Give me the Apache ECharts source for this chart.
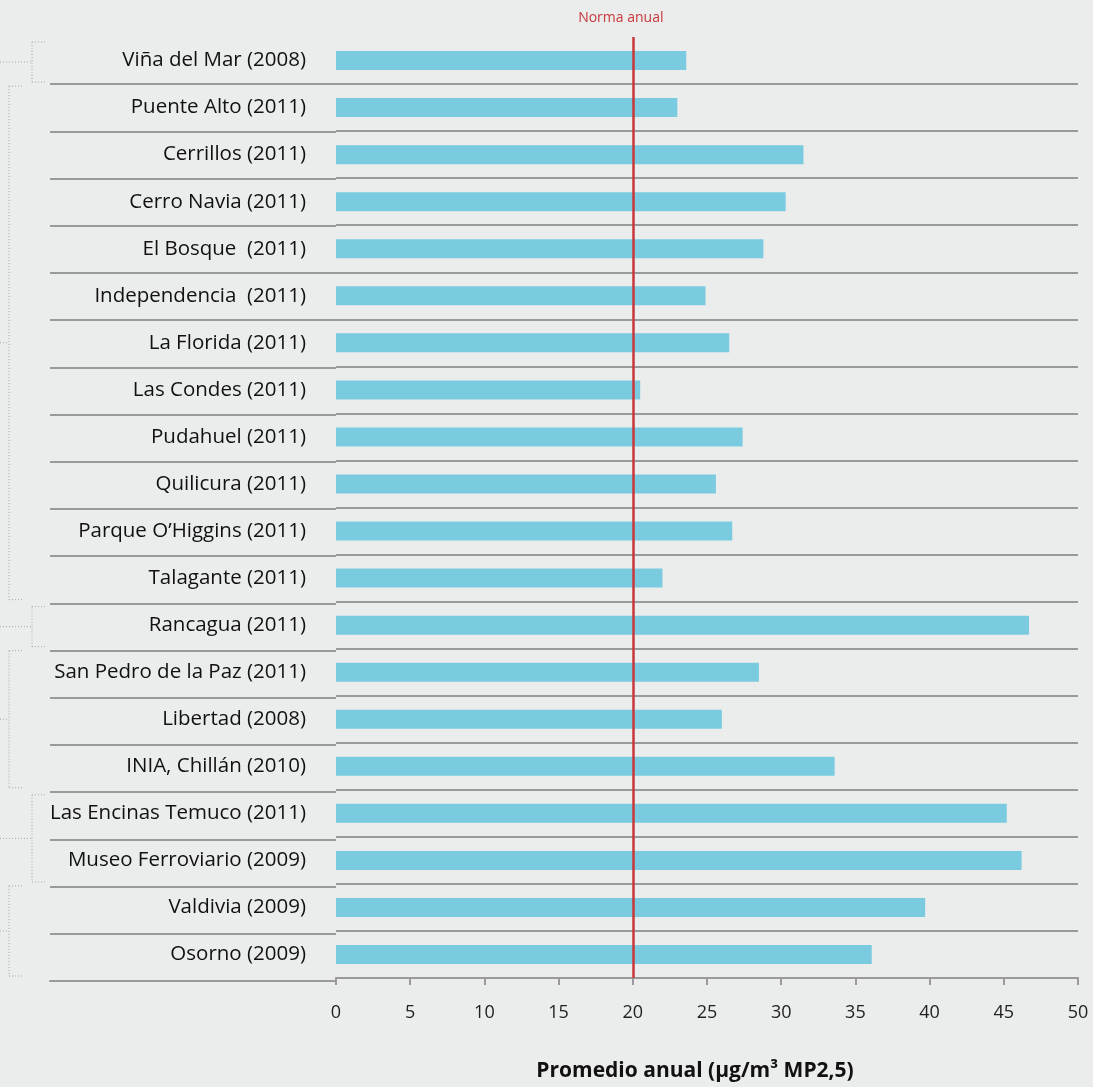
<!DOCTYPE html>
<html>
<head>
<meta charset="utf-8">
<script src="https://cdn.jsdelivr.net/npm/echarts@6/dist/echarts.min.js"></script>
<style>
html,body{margin:0;padding:0;background:#ebecec;}
#chart{width:1093px;height:1087px;}
</style>
</head>
<body>
<div id="chart"></div>
<script>
const categories = [
  "Viña del Mar (2008)", "Puente Alto (2011)", "Cerrillos (2011)", "Cerro Navia (2011)",
  "El Bosque  (2011)", "Independencia  (2011)", "La Florida (2011)", "Las Condes (2011)",
  "Pudahuel (2011)", "Quilicura (2011)", "Parque O’Higgins (2011)", "Talagante (2011)",
  "Rancagua (2011)", "San Pedro de la Paz (2011)", "Libertad (2008)", "INIA, Chillán (2010)",
  "Las Encinas Temuco (2011)", "Museo Ferroviario (2009)", "Valdivia (2009)", "Osorno (2009)"
];
const values = [23.6, 23.0, 31.5, 30.3, 28.8, 24.9, 26.5, 20.5, 27.4, 25.6, 26.7, 22.0,
  46.7, 28.5, 26.0, 33.6, 45.2, 46.2, 39.7, 36.1];
const normValue = 20;
const normLabel = "Norma anual";
const xTicks = { min: 0, max: 50, interval: 5 };
const axisTitle = "Promedio anual (µg/m³ MP2,5)";
// region groups (first index, last index, bracket level: 0 = inner, 1 = outer)
const groupStart = [0, 1, 12, 13, 16, 18];
const groupEnd   = [0, 11, 12, 15, 17, 19];
const groupLevel = [0, 1, 0, 1, 0, 1];

const chart = echarts.init(document.getElementById('chart'));
const FONT = '"Open Sans", "Noto Sans", sans-serif';
const sepColor = '#9a9a9a';

chart.setOption({
  backgroundColor: '#ebecec',
  animation: false,
  grid: [
    { left: 50, right: 757, top: 37, bottom: 106 },
    { left: 336, right: 15, top: 37, bottom: 106 }
  ],
  xAxis: [
    { gridIndex: 0, type: 'value', min: 0, max: 1,
      axisLine: { show: true, lineStyle: { color: sepColor, width: 2 } },
      axisTick: { show: false }, axisLabel: { show: false }, splitLine: { show: false } },
    { gridIndex: 1, type: 'value', min: xTicks.min, max: xTicks.max, interval: xTicks.interval,
      axisLine: { show: true, lineStyle: { color: sepColor, width: 2 } },
      axisTick: { show: true, length: 7, lineStyle: { color: sepColor, width: 2 } },
      axisLabel: { color: '#222', fontSize: 18, fontFamily: FONT, margin: 26 },
      splitLine: { show: false },
      name: axisTitle, nameLocation: 'middle', nameGap: 83,
      nameTextStyle: { color: '#111', fontSize: 21, fontWeight: 'bold', fontFamily: FONT, padding: [0, 24, 0, 0] } }
  ],
  yAxis: [
    { gridIndex: 0, type: 'category', inverse: true, data: categories,
      axisLine: { show: false }, axisTick: { show: false }, axisLabel: { show: false },
      splitLine: { show: true, showMinLine: false, lineStyle: { color: sepColor, width: 2 } } },
    { gridIndex: 1, type: 'category', inverse: true, data: categories,
      axisLine: { show: false }, axisTick: { show: false },
      axisLabel: { color: '#111', fontSize: 20.5, fontFamily: FONT, margin: 30 },
      splitLine: { show: true, showMinLine: false, lineStyle: { color: sepColor, width: 2 } } }
  ],
  series: [{
    type: 'bar', xAxisIndex: 1, yAxisIndex: 1, data: values, barWidth: 19,
    itemStyle: { color: '#7acbe0' },
    markLine: {
      silent: true, symbol: 'none',
      lineStyle: { color: '#c8373b', width: 2.5, type: 'solid' },
      label: { show: true, position: 'start', formatter: normLabel, color: '#c8373b', fontSize: 14, fontFamily: FONT, distance: 12, padding: [0, 24, 0, 0] },
      data: [{ xAxis: normValue }]
    }
  }]
});

// dotted region brackets on the left
const c0 = chart.convertToPixel({ yAxisIndex: 1 }, 0);
const c1 = chart.convertToPixel({ yAxisIndex: 1 }, 1);
const half = (c1 - c0) / 2;
const graphics = [];
const dotted = { stroke: '#a8a8a8', lineWidth: 1, lineDash: [1, 2] };
for (let g = 0; g < groupStart.length; g++) {
  const inner = groupLevel[g] === 0;
  const x = inner ? 32 : 9;
  const xr = inner ? 46 : 22;
  let y1 = chart.convertToPixel({ yAxisIndex: 1 }, groupStart[g]) - half + (inner ? 5 : 2);
  let y2 = chart.convertToPixel({ yAxisIndex: 1 }, groupEnd[g]) + half - 2;
  const ym = (y1 + y2) / 2;
  graphics.push({ type: 'line', shape: { x1: x, y1: y1, x2: x, y2: y2 }, style: dotted, silent: true });
  graphics.push({ type: 'line', shape: { x1: x, y1: y1, x2: xr, y2: y1 }, style: dotted, silent: true });
  graphics.push({ type: 'line', shape: { x1: x, y1: y2, x2: xr, y2: y2 }, style: dotted, silent: true });
  graphics.push({ type: 'line', shape: { x1: 0, y1: ym, x2: x, y2: ym }, style: dotted, silent: true });
}
chart.setOption({ graphic: graphics });
</script>
</body>
</html>
